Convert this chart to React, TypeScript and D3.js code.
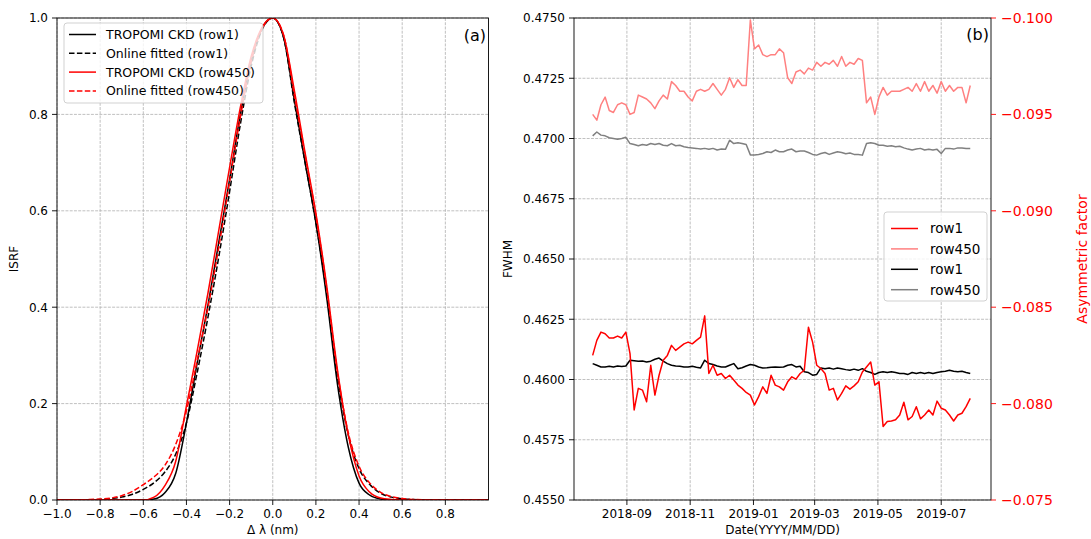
import React from 'react';
import * as d3 from 'd3';

// ---------- Panel (a): ISRF ----------
const isrfX: number[] = d3.range(41).map(i => -1 + i * 0.05);
const ckdRow1: number[] = [0, 0, 0, 0, 0, 0, 0, 0, 0,
  0.002, 0.015, 0.055, 0.16, 0.285, 0.405, 0.535, 0.665, 0.80, 0.91, 0.978, 1.0,
  0.96, 0.83, 0.70, 0.575, 0.42, 0.24, 0.11, 0.035, 0.01, 0.002,
  0, 0, 0, 0, 0, 0, 0, 0, 0, 0];
const fitRow1: number[] = [0, 0, 0.0002, 0.0005, 0.001, 0.003, 0.006, 0.012, 0.022,
  0.036, 0.058, 0.095, 0.16, 0.265, 0.38, 0.505, 0.64, 0.78, 0.9, 0.975, 1.0,
  0.96, 0.825, 0.70, 0.575, 0.43, 0.255, 0.135, 0.065, 0.032, 0.014,
  0.006, 0.0025, 0.001, 0.0003, 0, 0, 0, 0, 0, 0];
const ckdRow450: number[] = [0, 0, 0, 0, 0, 0, 0, 0, 0,
  0.006, 0.03, 0.08, 0.195, 0.31, 0.43, 0.56, 0.69, 0.815, 0.92, 0.98, 1.0,
  0.965, 0.85, 0.72, 0.595, 0.445, 0.27, 0.135, 0.05, 0.016, 0.004,
  0.001, 0, 0, 0, 0, 0, 0, 0, 0, 0];
const fitRow450: number[] = [0, 0.0001, 0.0003, 0.001, 0.002, 0.004, 0.009, 0.018, 0.032,
  0.048, 0.072, 0.115, 0.185, 0.29, 0.40, 0.525, 0.66, 0.795, 0.91, 0.978, 1.0,
  0.965, 0.84, 0.715, 0.59, 0.44, 0.265, 0.14, 0.07, 0.035, 0.016,
  0.007, 0.003, 0.0012, 0.0004, 0.0001, 0, 0, 0, 0, 0];
const isrfXTicks: number[] = [-1.0, -0.8, -0.6, -0.4, -0.2, 0.0, 0.2, 0.4, 0.6, 0.8];
const isrfYTicks: number[] = [0.0, 0.2, 0.4, 0.6, 0.8, 1.0];

// ---------- Panel (b): time series (every 4 days from 2018-07-30) ----------
const startDate = new Date(2018, 6, 30);
const stepDays = 4;
const asymRow1: number[] = [
  -0.08250, -0.08328, -0.08371, -0.08362, -0.08340, -0.08340, -0.08350, -0.08340, -0.08371, -0.08259,
  -0.07967, -0.08079, -0.08070, -0.08010, -0.08199, -0.08044, -0.08147, -0.08225, -0.08250, -0.08302,
  -0.08276, -0.08293, -0.08310, -0.08319, -0.08310, -0.08328, -0.08345, -0.08455, -0.08156, -0.08199,
  -0.08147, -0.08156, -0.08130, -0.08147, -0.08122, -0.08096, -0.08079, -0.08058, -0.08044, -0.07993,
  -0.08036, -0.08087, -0.08053, -0.08147, -0.08096, -0.08087,
  -0.08070, -0.08113, -0.08139, -0.08127, -0.08156, -0.08173, -0.08396, -0.08319, -0.08199, -0.08182,
  -0.08156, -0.08070, -0.08079, -0.08019, -0.08053, -0.08092, -0.08075, -0.08092, -0.08113, -0.08164,
  -0.08190, -0.08216, -0.08096, -0.08113, -0.07881, -0.07907, -0.07910, -0.07916, -0.07941, -0.08007,
  -0.07916, -0.07933, -0.07984, -0.07921, -0.07941, -0.07967, -0.07941, -0.08013, -0.07976, -0.07967,
  -0.07941, -0.07910, -0.07941, -0.07950, -0.07984, -0.08027];
const asymRow450: number[] = [
  -0.0950, -0.0947, -0.0955, -0.0959, -0.0952, -0.0951, -0.0955, -0.0956, -0.0955, -0.0950,
  -0.0951, -0.0960, -0.0959, -0.0958, -0.0956, -0.0953, -0.0957, -0.0960, -0.0958, -0.0967,
  -0.0965, -0.0962, -0.0962, -0.0959, -0.0957, -0.0962, -0.0963, -0.0962, -0.0963, -0.0966,
  -0.0963, -0.0960, -0.0963, -0.0969, -0.0964, -0.0968, -0.0965, -0.0965, -0.0999, -0.0984,
  -0.0986, -0.0981, -0.0980, -0.0981, -0.0981, -0.0984, -0.0982, -0.0969, -0.0966, -0.0972,
  -0.0973, -0.0971, -0.0974, -0.0973, -0.0977, -0.0975, -0.0977, -0.0976, -0.0978, -0.0975,
  -0.0980, -0.0975, -0.0977, -0.0976, -0.0979, -0.0978, -0.0956, -0.0959, -0.0950, -0.0959,
  -0.0964, -0.0960, -0.0962, -0.0962, -0.0962, -0.0963, -0.0964, -0.0962, -0.0966, -0.0962,
  -0.0967, -0.0962, -0.0965, -0.0961, -0.0967, -0.0962, -0.0965, -0.0962, -0.0964, -0.0964,
  -0.0956, -0.0965];
const fwhmRow1: number[] = [
  0.46066, 0.46059, 0.46052, 0.46052, 0.46055, 0.46052, 0.46056, 0.46054, 0.46056, 0.46080,
  0.46078, 0.46076, 0.46077, 0.46073, 0.46076, 0.46084, 0.46089, 0.46076, 0.46066, 0.46059,
  0.46056, 0.46055, 0.46052, 0.46052, 0.46055, 0.46051, 0.46048, 0.46080, 0.46066, 0.46062,
  0.46056, 0.46052, 0.46052, 0.46059, 0.46066, 0.46045, 0.46049, 0.46056, 0.46062, 0.46059,
  0.46052, 0.46048, 0.46049, 0.46051, 0.46052, 0.46051,
  0.46052, 0.46059, 0.46062, 0.46052, 0.46055, 0.46032, 0.46029, 0.46018, 0.46021, 0.46048,
  0.46045, 0.46048, 0.46043, 0.46048, 0.46045, 0.46041, 0.46038, 0.46043, 0.46038, 0.46045,
  0.46034, 0.46029, 0.46021, 0.46029, 0.46032, 0.46029, 0.46032, 0.46029, 0.46025, 0.46025,
  0.46021, 0.46029, 0.46025, 0.46029, 0.46025, 0.46029, 0.46025, 0.46029, 0.46032, 0.46034,
  0.46038, 0.46034, 0.46032, 0.46034, 0.46029, 0.46025];
const fwhmRow450: number[] = [
  0.47011, 0.47027, 0.47014, 0.47011, 0.47003, 0.47000, 0.46997, 0.47000, 0.47005, 0.46979,
  0.46975, 0.46970, 0.46975, 0.46972, 0.46979, 0.46975, 0.46979, 0.46972, 0.46970, 0.46979,
  0.46970, 0.46972, 0.46966, 0.46963, 0.46961, 0.46959, 0.46956, 0.46959, 0.46955, 0.46959,
  0.46952, 0.46956, 0.46955, 0.46993, 0.46979, 0.46982, 0.46979, 0.46975, 0.46932, 0.46932,
  0.46934, 0.46938, 0.46945, 0.46942, 0.46952, 0.46945,
  0.46945, 0.46952, 0.46956, 0.46945, 0.46948, 0.46948, 0.46942, 0.46934, 0.46931, 0.46938,
  0.46942, 0.46934, 0.46940, 0.46945, 0.46942, 0.46937, 0.46940, 0.46934, 0.46934, 0.46931,
  0.46979, 0.46982, 0.46979, 0.46972, 0.46972, 0.46968, 0.46970, 0.46966, 0.46968, 0.46961,
  0.46956, 0.46952, 0.46956, 0.46959, 0.46952, 0.46955, 0.46952, 0.46955, 0.46938, 0.46959,
  0.46959, 0.46956, 0.46961, 0.46961, 0.46959, 0.46959];
const dateTickLabels: string[] = ['2018-09', '2018-11', '2019-01', '2019-03', '2019-05', '2019-07'];
const fwhmTicks: number[] = [0.4550, 0.4575, 0.4600, 0.4625, 0.4650, 0.4675, 0.4700, 0.4725, 0.4750];
const asymTicks: number[] = [-0.100, -0.095, -0.090, -0.085, -0.080, -0.075];

const FONT = 'DejaVu Sans, sans-serif';
const GRID = { stroke: '#b0b0b0', strokeWidth: 0.8, strokeDasharray: '2.96 1.28' };

export default function App() {
  const W = 1091, H = 539;
  // panel a
  const xL = d3.scaleLinear().domain([-1, 1]).range([57, 488.5]);
  const yL = d3.scaleLinear().domain([0, 1]).range([500, 18]);
  // panel b
  const xR = d3.scaleTime().domain([new Date(2018, 6, 12), new Date(2019, 7, 18)]).range([574, 991]);
  const yF = d3.scaleLinear().domain([0.455, 0.475]).range([500, 18]);
  const yA = d3.scaleLinear().domain([-0.075, -0.1]).range([500, 18]);

  const dates = d3.range(asymRow1.length).map(i => d3.timeDay.offset(startDate, i * stepDays));
  const parseM = d3.timeParse('%Y-%m');
  const dateTicks = dateTickLabels.map(s => parseM(s) as Date);

  const isrfLine = d3.line<number>().x((_, i) => xL(isrfX[i])).y(d => yL(d)).curve(d3.curveMonotoneX);
  const fLine = d3.line<number>().x((_, i) => xR(dates[i])).y(d => yF(d));
  const aLine = d3.line<number>().x((_, i) => xR(dates[i])).y(d => yA(d));

  const f1 = d3.format('.1f');
  const f4 = d3.format('.4f');
  const f3 = d3.format('.3f');

  const L = { x0: 57, x1: 488.5, y0: 18, y1: 500 };
  const R = { x0: 574, x1: 991, y0: 18, y1: 500 };

  const legA = [
    { label: 'TROPOMI CKD (row1)', color: '#000', dash: undefined },
    { label: 'Online fitted (row1)', color: '#000', dash: '5.5 2.4' },
    { label: 'TROPOMI CKD (row450)', color: '#ff0000', dash: undefined },
    { label: 'Online fitted (row450)', color: '#ff0000', dash: '5.5 2.4' },
  ];
  const legB = [
    { label: 'row1', color: '#ff0000' },
    { label: 'row450', color: '#ff8080' },
    { label: 'row1', color: '#000000' },
    { label: 'row450', color: '#808080' },
  ];

  return (
    <svg width={W} height={H} style={{ position: 'absolute', left: 0, top: 0, background: '#fff' }}
      fontFamily={FONT}>
      <defs>
        <clipPath id="clipA"><rect x={L.x0} y={L.y0} width={L.x1 - L.x0} height={L.y1 - L.y0} /></clipPath>
        <clipPath id="clipB"><rect x={R.x0} y={R.y0} width={R.x1 - R.x0} height={R.y1 - R.y0} /></clipPath>
      </defs>

      {/* ---------- Panel a ---------- */}
      {isrfXTicks.map(t => (
        <line key={'gxa' + t} x1={xL(t)} x2={xL(t)} y1={L.y0} y2={L.y1} {...GRID} />
      ))}
      {isrfYTicks.map(t => (
        <line key={'gya' + t} x1={L.x0} x2={L.x1} y1={yL(t)} y2={yL(t)} {...GRID} />
      ))}
      <g clipPath="url(#clipA)" fill="none" strokeWidth={1.5}>
        <path d={isrfLine(ckdRow1) || ''} stroke="#000" />
        <path d={isrfLine(fitRow1) || ''} stroke="#000" strokeDasharray="5.5 2.4" />
        <path d={isrfLine(ckdRow450) || ''} stroke="#ff0000" />
        <path d={isrfLine(fitRow450) || ''} stroke="#ff0000" strokeDasharray="5.5 2.4" />
      </g>
      <rect x={L.x0} y={L.y0} width={L.x1 - L.x0} height={L.y1 - L.y0} fill="none" stroke="#000" strokeWidth={0.9} />
      {isrfXTicks.map(t => (
        <g key={'xta' + t}>
          <line x1={xL(t)} x2={xL(t)} y1={L.y1} y2={L.y1 + 5} stroke="#000" strokeWidth={0.9} />
          <text x={xL(t)} y={518} fontSize={12} textAnchor="middle" fill="#000">{f1(t)}</text>
        </g>
      ))}
      {isrfYTicks.map(t => (
        <g key={'yta' + t}>
          <line x1={L.x0 - 5} x2={L.x0} y1={yL(t)} y2={yL(t)} stroke="#000" strokeWidth={0.9} />
          <text x={L.x0 - 9} y={yL(t)} dy="0.36em" fontSize={12} textAnchor="end" fill="#000">{f1(t)}</text>
        </g>
      ))}
      <text x={(L.x0 + L.x1) / 2} y={534} fontSize={12} textAnchor="middle">Δ λ (nm)</text>
      <text transform={`translate(18,${(L.y0 + L.y1) / 2}) rotate(-90)`} fontSize={12} textAnchor="middle">ISRF</text>
      <text x={486} y={41} fontSize={16} textAnchor="end">(a)</text>
      {/* legend a */}
      <rect x={64} y={23} width={199} height={80} rx={3} fill="#fff" fillOpacity={0.8} stroke="#cccccc" strokeWidth={0.9} />
      {legA.map((d, i) => {
        const y = 34.5 + i * 18.8;
        return (
          <g key={'la' + i}>
            <line x1={69} x2={96} y1={y} y2={y} stroke={d.color} strokeWidth={1.5} strokeDasharray={d.dash} />
            <text x={106} y={y} dy="0.36em" fontSize={12.5}>{d.label}</text>
          </g>
        );
      })}

      {/* ---------- Panel b ---------- */}
      {dateTicks.map((t, i) => (
        <line key={'gxb' + i} x1={xR(t)} x2={xR(t)} y1={R.y0} y2={R.y1} {...GRID} />
      ))}
      {fwhmTicks.map(t => (
        <line key={'gyb' + t} x1={R.x0} x2={R.x1} y1={yF(t)} y2={yF(t)} {...GRID} />
      ))}
      <g clipPath="url(#clipB)" fill="none" strokeWidth={1.5} strokeLinejoin="round">
        <path d={fLine(fwhmRow1) || ''} stroke="#000000" />
        <path d={fLine(fwhmRow450) || ''} stroke="#808080" />
        <path d={aLine(asymRow1) || ''} stroke="#ff0000" />
        <path d={aLine(asymRow450) || ''} stroke="#ff8080" />
      </g>
      <rect x={R.x0} y={R.y0} width={R.x1 - R.x0} height={R.y1 - R.y0} fill="none" stroke="#000" strokeWidth={0.9} />
      {dateTicks.map((t, i) => (
        <g key={'xtb' + i}>
          <line x1={xR(t)} x2={xR(t)} y1={R.y1} y2={R.y1 + 5} stroke="#000" strokeWidth={0.9} />
          <text x={xR(t)} y={518} fontSize={12} textAnchor="middle">{dateTickLabels[i]}</text>
        </g>
      ))}
      {fwhmTicks.map(t => (
        <g key={'ytb' + t}>
          <line x1={R.x0 - 5} x2={R.x0} y1={yF(t)} y2={yF(t)} stroke="#000" strokeWidth={0.9} />
          <text x={R.x0 - 9} y={yF(t)} dy="0.36em" fontSize={12} textAnchor="end">{f4(t)}</text>
        </g>
      ))}
      {asymTicks.map(t => (
        <g key={'ytr' + t}>
          <line x1={R.x1} x2={R.x1 + 5} y1={yA(t)} y2={yA(t)} stroke="#ff0000" strokeWidth={0.9} />
          <text x={R.x1 + 10} y={yA(t)} dy="0.36em" fontSize={14} textAnchor="start" fill="#ff0000">{f3(t)}</text>
        </g>
      ))}
      <text x={(R.x0 + R.x1) / 2} y={534} fontSize={12} textAnchor="middle">Date(YYYY/MM/DD)</text>
      <text transform={`translate(512,${(R.y0 + R.y1) / 2}) rotate(-90)`} fontSize={12} textAnchor="middle">FWHM</text>
      <text transform={`translate(1087,${(R.y0 + R.y1) / 2}) rotate(-90)`} fontSize={14} textAnchor="middle" fill="#ff0000">Asymmetric factor</text>
      <text x={989} y={40} fontSize={16} textAnchor="end">(b)</text>
      {/* legend b */}
      <rect x={884} y={212} width={103} height={89} rx={3} fill="#fff" fillOpacity={0.8} stroke="#cccccc" strokeWidth={0.9} />
      {legB.map((d, i) => {
        const y = 228.5 + i * 20.4;
        return (
          <g key={'lb' + i}>
            <line x1={891} x2={918} y1={y} y2={y} stroke={d.color} strokeWidth={1.5} />
            <text x={930} y={y} dy="0.36em" fontSize={13.5}>{d.label}</text>
          </g>
        );
      })}
    </svg>
  );
}
